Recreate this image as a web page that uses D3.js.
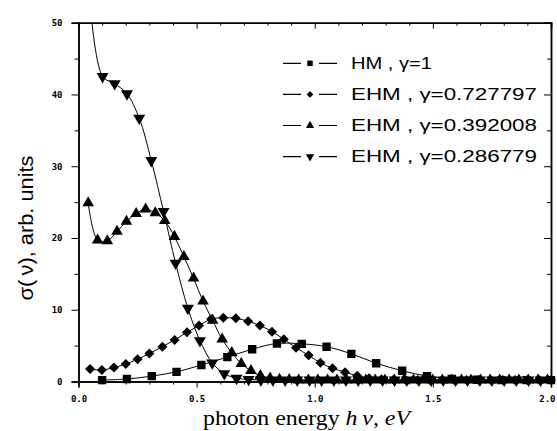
<!DOCTYPE html>
<meta charset="utf-8">
<style>
  body { margin: 0; background: #fff; }
  .axis path.domain { stroke: #000; stroke-width: 1.5px; }
  .axis .tick line { stroke: #000; stroke-width: 1px; }
  .axis text {
    font-family: "DejaVu Sans Mono", monospace;
    font-weight: bold;
    font-size: 9px;
    fill: #000;
  }
  .series-line { fill: none; stroke: #000; stroke-width: 1px; }
</style>
<svg width="557" height="431"></svg>
<script src="https://d3js.org/d3.v7.min.js"></script>
<script>
  // HM, gamma = 1 (squares)
  var hmX = [0.1, 0.205, 0.31, 0.415, 0.52, 0.63, 0.735, 0.84, 0.945, 1.05, 1.155, 1.26, 1.37, 1.475, 1.58, 1.686, 1.79, 1.897, 2.0];
  var hmY = [0.2, 0.35, 0.75, 1.35, 2.3, 3.4, 4.5, 5.3, 5.25, 4.85, 3.85, 2.55, 1.5, 0.75, 0.35, 0.25, 0.2, 0.2, 0.2];

  // EHM, gamma = 0.727797 (diamonds)
  var ehm1X = [0.049, 0.099, 0.15, 0.2, 0.25, 0.3, 0.355, 0.407, 0.459, 0.51, 0.562, 0.613, 0.666, 0.718, 0.768, 0.819, 0.869, 0.921, 0.974, 1.024, 1.075, 1.128, 1.18, 1.23, 1.282, 1.333, 1.385, 1.436, 1.488, 1.54, 1.59, 1.642, 1.693, 1.745, 1.796, 1.848, 1.9, 1.95, 2.0];
  var ehm1Y = [1.75, 1.6, 1.95, 2.45, 3.1, 3.9, 4.85, 5.8, 6.85, 7.8, 8.7, 8.9, 8.8, 8.4, 7.8, 6.95, 5.9, 4.7, 3.65, 2.6, 1.85, 1.3, 0.8, 0.45, 0.3, 0.25, 0.2, 0.2, 0.2, 0.2, 0.2, 0.2, 0.2, 0.2, 0.2, 0.2, 0.2, 0.2, 0.2];

  // EHM, gamma = 0.392008 (up triangles)
  var ehm2X = [0.041, 0.081, 0.122, 0.163, 0.203, 0.244, 0.284, 0.325, 0.365, 0.406, 0.446, 0.487, 0.527, 0.568, 0.608, 0.649, 0.689, 0.73, 0.77, 0.811, 0.851, 0.892, 0.932, 0.973, 1.013, 1.054, 1.094, 1.135, 1.175, 1.216, 1.256, 1.297, 1.337, 1.378, 1.418, 1.459, 1.499, 1.54, 1.58, 1.621, 1.661, 1.702, 1.742, 1.783, 1.823, 1.864, 1.904, 1.945, 1.985];
  var ehm2Y = [24.9, 19.7, 19.6, 20.9, 22.3, 23.4, 24.0, 23.5, 22.4, 20.2, 17.4, 14.4, 11.2, 8.5, 5.9, 4.0, 2.5, 1.5, 0.8, 0.45, 0.3, 0.25, 0.2, 0.2, 0.2, 0.2, 0.2, 0.2, 0.2, 0.2, 0.2, 0.2, 0.2, 0.2, 0.2, 0.2, 0.2, 0.2, 0.2, 0.2, 0.2, 0.2, 0.2, 0.2, 0.2, 0.2, 0.2, 0.2, 0.2];

  // EHM, gamma = 0.286779 (down triangles)
  var ehm3X = [0.05, 0.102, 0.153, 0.205, 0.257, 0.308, 0.36, 0.411, 0.463, 0.514, 0.566, 0.617, 0.669, 0.72, 0.772, 0.823, 0.875, 0.926, 0.978, 1.029, 1.081, 1.132, 1.184, 1.235, 1.287, 1.338, 1.39, 1.441, 1.493, 1.544, 1.596, 1.647, 1.699, 1.75, 1.802, 1.853, 1.905, 1.956];
  var ehm3Y = [52.4, 42.5, 41.5, 40.1, 36.7, 30.8, 23.7, 16.5, 10.2, 5.7, 2.6, 1.1, 0.45, 0.3, 0.2, 0.2, 0.2, 0.2, 0.2, 0.2, 0.2, 0.2, 0.2, 0.2, 0.2, 0.2, 0.2, 0.2, 0.2, 0.2, 0.2, 0.2, 0.2, 0.2, 0.2, 0.2, 0.2, 0.2];

  var legendLabels = ["HM , \u03b3=1", "EHM , \u03b3=0.727797", "EHM , \u03b3=0.392008", "EHM , \u03b3=0.286779"];
  var xMajorTicks = [0, 0.5, 1, 1.5, 2];
  var xMinorTicks = [0.1, 0.2, 0.3, 0.4, 0.6, 0.7, 0.8, 0.9, 1.1, 1.2, 1.3, 1.4, 1.6, 1.7, 1.8, 1.9];
  var yMajorTicks = [0, 10, 20, 30, 40, 50];
  var yMinorTicks = [5, 15, 25, 35, 45];

  var svg = d3.select("svg");
  var margin = { top: 22.7, right: 6, bottom: 49.5, left: 78.5 };
  var width = svg.attr("width") - margin.left - margin.right;
  var height = svg.attr("height") - margin.top - margin.bottom;
  var g = svg.append("g").attr("transform", "translate(" + margin.left + "," + margin.top + ")");

  var x = d3.scaleLinear().domain([0, 2]).range([0, width]);
  var y = d3.scaleLinear().domain([0, 50]).range([height, 0]);

  svg.append("defs").append("clipPath").attr("id", "clip")
    .append("rect")
    .attr("x", -10).attr("y", 0)
    .attr("width", width + 20).attr("height", height + 12);

  // symbols
  var tri = d3.symbol().type(d3.symbolTriangle);
  var sq = d3.symbol().type(d3.symbolSquare);
  var series = [
    { xs: hmX, ys: hmY, path: sq.size(70)(), rot: 0, legendPath: sq.size(30)() },
    { xs: ehm1X, ys: ehm1Y, path: sq.size(50)(), rot: 45, legendPath: sq.size(22)() },
    { xs: ehm2X, ys: ehm2Y, path: tri.size(58)(), rot: 0, legendPath: tri.size(30)() },
    { xs: ehm3X, ys: ehm3Y, path: tri.size(62)(), rot: 180, legendPath: tri.size(30)() }
  ];

  var line = d3.line()
    .curve(d3.curveCatmullRom.alpha(0.5))
    .x(function(d) { return x(d[0]); })
    .y(function(d) { return y(d[1]); });

  var plot = g.append("g").attr("clip-path", "url(#clip)");

  series.forEach(function(s) {
    var pts = s.xs.map(function(v, i) { return [v, s.ys[i]]; });
    plot.append("path")
      .datum(pts)
      .attr("class", "series-line")
      .attr("d", line);
    plot.selectAll(null)
      .data(pts)
      .enter().append("path")
      .attr("d", s.path)
      .attr("fill", "#000")
      .attr("transform", function(d) {
        return "translate(" + x(d[0]) + "," + y(d[1]) + ") rotate(" + s.rot + ")";
      });
  });

  // axes: bottom / left with labels, top / right mirrored with inward ticks
  g.append("g")
    .attr("class", "axis")
    .attr("transform", "translate(0," + height + ")")
    .call(d3.axisBottom(x).tickValues(xMinorTicks).tickSize(3).tickFormat(""));
  var xAxis = g.append("g")
    .attr("class", "axis")
    .attr("transform", "translate(0," + height + ")")
    .call(d3.axisBottom(x).tickValues(xMajorTicks).tickSize(6).tickFormat(d3.format(".1f")));
  xAxis.selectAll("text").attr("y", 20).attr("dy", null);
  // last label sits at the right edge, keep it inside the page
  xAxis.selectAll("text").filter(function(d) { return d === 2; })
    .attr("text-anchor", "end").attr("x", 4);

  g.append("g")
    .attr("class", "axis")
    .call(d3.axisLeft(y).tickValues(yMinorTicks).tickSize(4).tickFormat(""));
  g.append("g")
    .attr("class", "axis")
    .call(d3.axisLeft(y).tickValues(yMajorTicks).tickSize(7).tickPadding(9).tickFormat(d3.format("d")));

  g.append("g")
    .attr("class", "axis")
    .call(d3.axisBottom(x).tickValues(xMinorTicks).tickSize(3).tickFormat(""));
  g.append("g")
    .attr("class", "axis")
    .call(d3.axisBottom(x).tickValues(xMajorTicks).tickSize(6).tickFormat(""));
  g.append("g")
    .attr("class", "axis")
    .attr("transform", "translate(" + width + ",0)")
    .call(d3.axisLeft(y).tickValues(yMinorTicks).tickSize(4).tickFormat(""));
  g.append("g")
    .attr("class", "axis")
    .attr("transform", "translate(" + width + ",0)")
    .call(d3.axisLeft(y).tickValues(yMajorTicks).tickSize(7).tickFormat(""));

  // legend
  var legend = svg.append("g").attr("transform", "translate(283,63.3)");
  var legendRowH = 31.1;
  legendLabels.forEach(function(lbl, i) {
    var row = legend.append("g").attr("transform", "translate(0," + (i * legendRowH) + ")");
    row.append("line")
      .attr("x1", 0).attr("x2", 54).attr("y1", 0).attr("y2", 0)
      .attr("stroke", "#000").attr("stroke-width", 1.2);
    row.append("rect")
      .attr("x", 18).attr("y", -5).attr("width", 18).attr("height", 10)
      .attr("fill", "#fff");
    row.append("path")
      .attr("d", series[i].legendPath)
      .attr("fill", "#000")
      .attr("transform", "translate(27,0) rotate(" + series[i].rot + ")");
    row.append("text")
      .attr("x", 68).attr("y", 0).attr("dy", "0.36em")
      .attr("font-family", "'Liberation Sans', Arial, sans-serif")
      .attr("font-size", "16px")
      .attr("textLength", i === 0 ? 81 : 186)
      .attr("lengthAdjust", "spacingAndGlyphs")
      .text(lbl);
  });

  // axis titles
  svg.append("text")
    .attr("transform", "translate(33,228) rotate(-90)")
    .attr("text-anchor", "middle")
    .attr("font-family", "'Liberation Sans', Arial, sans-serif")
    .attr("font-size", "20px")
    .attr("textLength", 145)
    .attr("lengthAdjust", "spacingAndGlyphs")
    .text("\u03c3(\u2009\u03bd), arb. units");

  var xTitle = svg.append("text")
    .attr("x", 203).attr("y", 425)
    .attr("font-family", "'Liberation Serif', 'Times New Roman', serif")
    .attr("font-size", "22px")
    .attr("textLength", 207)
    .attr("lengthAdjust", "spacingAndGlyphs");
  xTitle.append("tspan").text("photon energy ");
  xTitle.append("tspan").attr("font-style", "italic").text("h\u2009\u03bd, eV");
</script>
